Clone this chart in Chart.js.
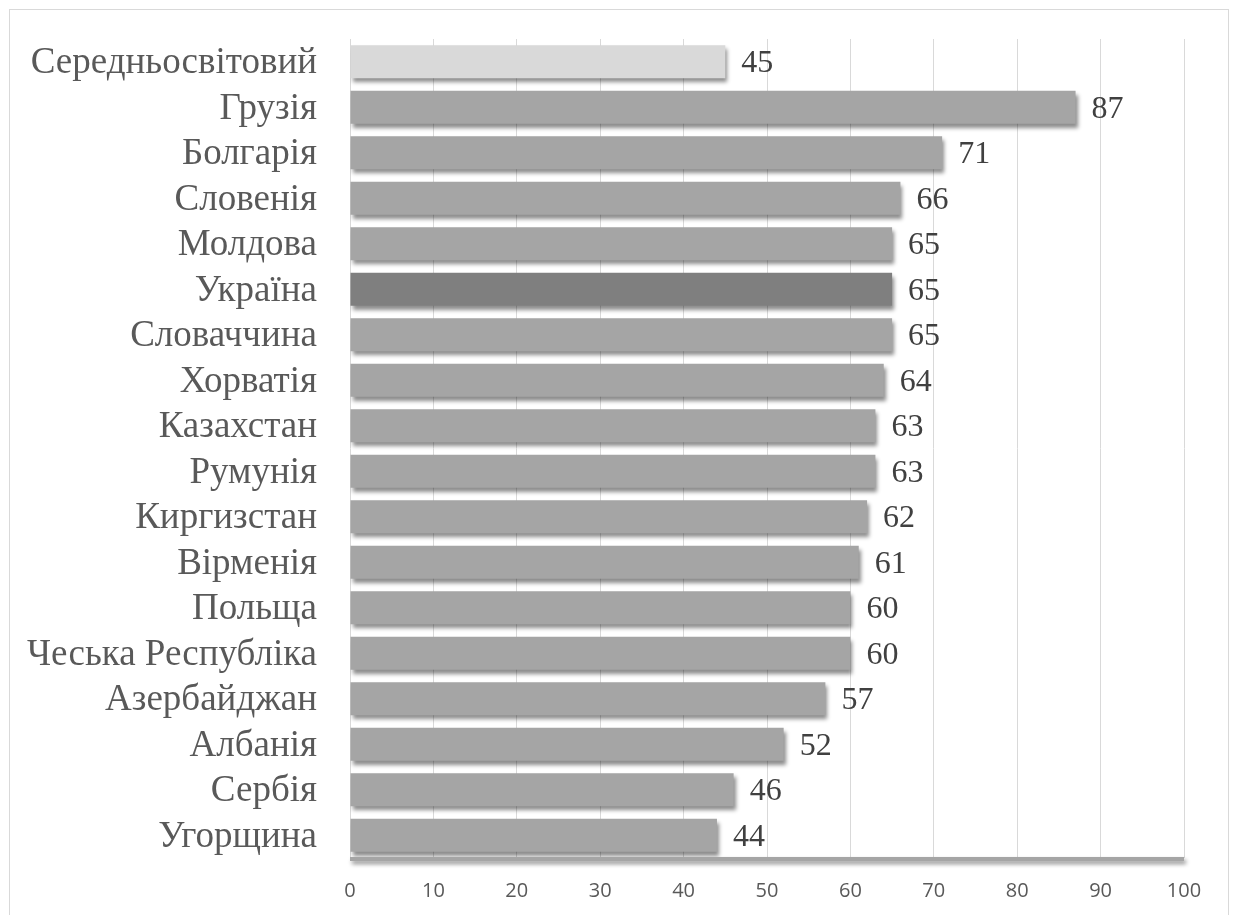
<!DOCTYPE html>
<html>
<head>
<meta charset="utf-8">
<script src="https://cdn.jsdelivr.net/npm/chart.js@4/dist/chart.umd.min.js"></script>
<style>
  html, body { margin: 0; padding: 0; background: #ffffff; }
  #wrap { position: relative; width: 1234px; height: 915px; }
  #frame { position: absolute; left: 9px; top: 9px; width: 1220px; height: 910px; border: 1px solid #d9d9d9; box-sizing: border-box; }
  canvas { position: absolute; left: 0; top: 0; }
</style>
</head>
<body>
<div id="wrap">
  <div id="frame"></div>
  <canvas id="c" width="1234" height="915"></canvas>
</div>
<script>
const categories = ["Середньосвітовий", "Грузія", "Болгарія", "Словенія", "Молдова", "Україна", "Словаччина", "Хорватія", "Казахстан", "Румунія", "Киргизстан", "Вірменія", "Польща", "Чеська Республіка", "Азербайджан", "Албанія", "Сербія", "Угорщина"];
const values = [45, 87, 71, 66, 65, 65, 65, 64, 63, 63, 62, 61, 60, 60, 57, 52, 46, 44];
const barColors = ["#d9d9d9", "#a5a5a5", "#a5a5a5", "#a5a5a5", "#a5a5a5", "#7f7f7f", "#a5a5a5", "#a5a5a5", "#a5a5a5", "#a5a5a5", "#a5a5a5", "#a5a5a5", "#a5a5a5", "#a5a5a5", "#a5a5a5", "#a5a5a5", "#a5a5a5", "#a5a5a5"];
const xTicks = [0, 10, 20, 30, 40, 50, 60, 70, 80, 90, 100];

const shadowPlugin = {
  id: 'shadow',
  beforeDatasetsDraw(chart) {
    const ctx = chart.ctx;
    ctx.save();
    ctx.shadowColor = 'rgba(0,0,0,0.45)';
    ctx.shadowBlur = 4;
    ctx.shadowOffsetX = 2;
    ctx.shadowOffsetY = 4;
  },
  afterDatasetsDraw(chart) {
    chart.ctx.restore();
  }
};

const labelPlugin = {
  id: 'valueLabels',
  afterDatasetsDraw(chart) {
    const ctx = chart.ctx;
    const meta = chart.getDatasetMeta(0);
    ctx.save();
    ctx.font = '32px "Liberation Serif", "Times New Roman", serif';
    ctx.fillStyle = '#404040';
    ctx.textAlign = 'left';
    ctx.textBaseline = 'middle';
    meta.data.forEach((bar, i) => {
      ctx.fillText(String(values[i]), bar.x + 16, bar.y + 2);
    });
    ctx.restore();
  }
};

const axisLinePlugin = {
  id: 'axisLine',
  afterDatasetsDraw(chart) {
    const ctx = chart.ctx;
    const a = chart.chartArea;
    ctx.save();
    ctx.shadowColor = 'rgba(0,0,0,0.45)';
    ctx.shadowBlur = 4;
    ctx.shadowOffsetX = 2;
    ctx.shadowOffsetY = 3;
    ctx.fillStyle = '#a5a5a5';
    ctx.fillRect(a.left, a.bottom - 1, a.right - a.left, 4);
    ctx.restore();
  }
};

new Chart(document.getElementById('c'), {
  type: 'bar',
  data: {
    labels: categories,
    datasets: [{
      data: values,
      backgroundColor: barColors,
      borderWidth: 0,
      categoryPercentage: 1.0,
      barPercentage: 0.72
    }]
  },
  options: {
    indexAxis: 'y',
    responsive: false,
    animation: false,
    devicePixelRatio: 1,
    layout: { padding: { top: 39, right: 50, bottom: 0, left: 0 } },
    plugins: {
      legend: { display: false },
      tooltip: { enabled: false }
    },
    scales: {
      x: {
        min: 0,
        max: 100,
        afterBuildTicks(scale) { scale.ticks = xTicks.map(v => ({ value: v })); },
        afterFit(scale) { scale.height = 57; },
        grid: { color: '#d9d9d9', lineWidth: 1, drawTicks: false },
        border: { display: false },
        ticks: {
          padding: 21,
          color: '#595959',
          font: { family: '"Open Sans", "DejaVu Sans", sans-serif', size: 20 }
        }
      },
      y: {
        afterFit(scale) { scale.width = 350; scale.paddingTop = 0; scale.paddingBottom = 0; },
        grid: { display: false, drawTicks: false },
        border: { display: false },
        ticks: {
          padding: 33,
          labelOffset: 2,
          color: '#595959',
          autoSkip: false,
          font: { family: '"Liberation Serif", "Times New Roman", serif', size: 37 }
        }
      }
    }
  },
  plugins: [shadowPlugin, labelPlugin, axisLinePlugin]
});
</script>
</body>
</html>
